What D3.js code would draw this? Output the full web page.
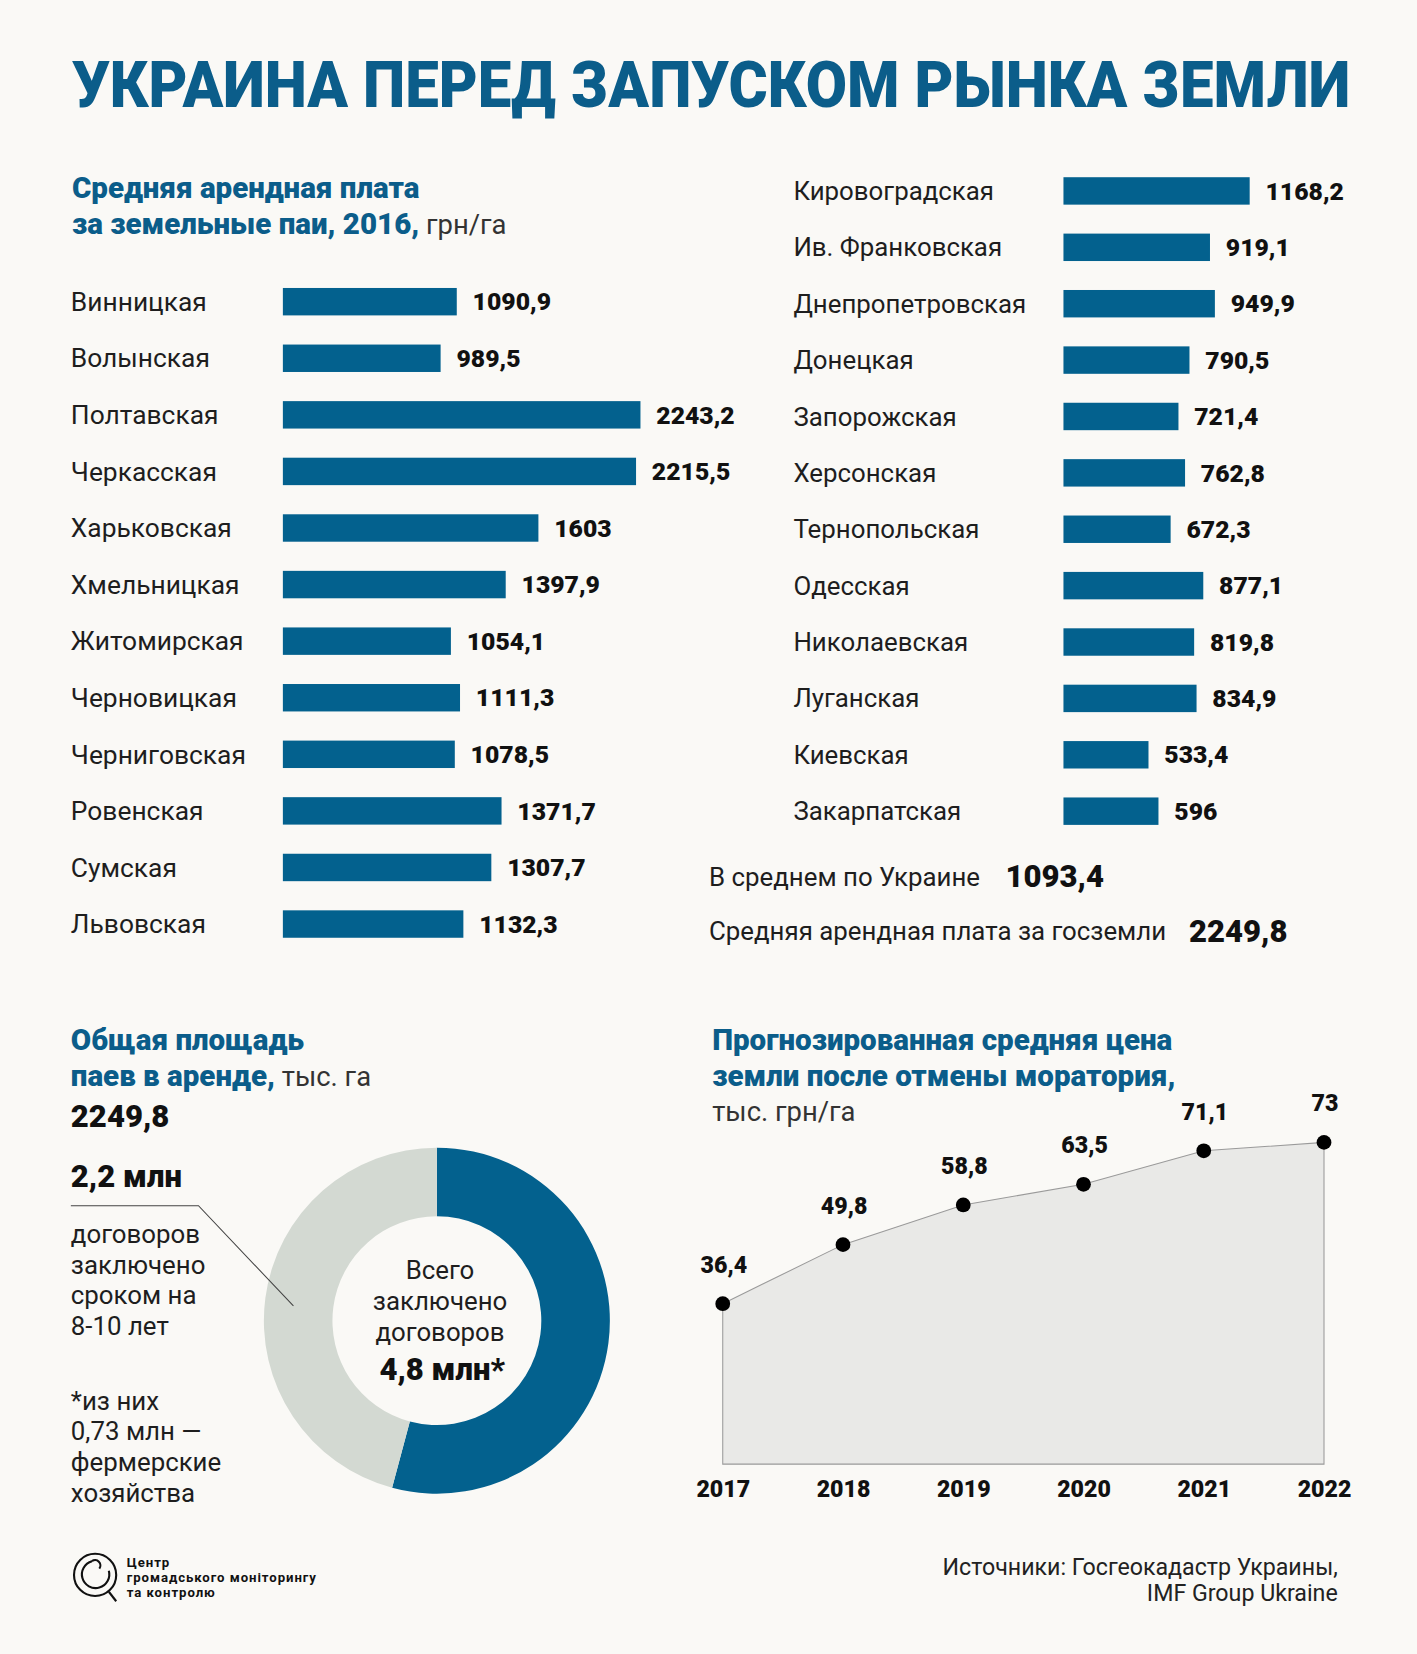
<!DOCTYPE html>
<html><head><meta charset="utf-8">
<script src="https://cdn.jsdelivr.net/npm/d3@7"></script>
<style>
html,body{margin:0;padding:0;background:#faf9f6;}
svg{display:block;}
text{font-family:Roboto,"Open Sans",sans-serif;}
</style></head>
<body><div id="chart"></div>
<script>
const title = "УКРАИНА ПЕРЕД ЗАПУСКОМ РЫНКА ЗЕМЛИ";
const leftRegions = ["Винницкая","Волынская","Полтавская","Черкасская","Харьковская","Хмельницкая","Житомирская","Черновицкая","Черниговская","Ровенская","Сумская","Львовская"];
const leftValues = [1090.9, 989.5, 2243.2, 2215.5, 1603, 1397.9, 1054.1, 1111.3, 1078.5, 1371.7, 1307.7, 1132.3];
const rightRegions = ["Кировоградская","Ив. Франковская","Днепропетровская","Донецкая","Запорожская","Херсонская","Тернопольская","Одесская","Николаевская","Луганская","Киевская","Закарпатская"];
const rightValues = [1168.2, 919.1, 949.9, 790.5, 721.4, 762.8, 672.3, 877.1, 819.8, 834.9, 533.4, 596];
const avgUkraine = 1093.4;
const avgState = 2249.8;
const totalArea = 2249.8;
const contractsTotal = 4.8;
const contracts810 = 2.2;
const years = [2017, 2018, 2019, 2020, 2021, 2022];
const prices = [36.4, 49.8, 58.8, 63.5, 71.1, 73];

const BLUE = "#03618e", TBLUE = "#0b5d8a", GRAY = "#d3d9d2";
const fmt = v => String(v).replace(".", ",");

const svg = d3.select("#chart").append("svg")
  .attr("width", 1417).attr("height", 1654)
  .attr("viewBox", "0 0 1343 1568");
svg.append("rect").attr("width", 1343).attr("height", 1568).attr("fill", "#faf9f6");

// title, horizontally scaled to the reference width
const tt = svg.append("text").attr("x", 0).attr("y", 0)
  .attr("font-size", 62).attr("font-weight", 900).attr("fill", TBLUE).text(title);
const tw = tt.node().getComputedTextLength();
tt.attr("transform", `translate(68,101) scale(${1212 / tw},1)`);

// ---------- bars ----------
const x = d3.scaleLinear().domain([0, 2243.2]).range([0, 339]);
function barBlock(regions, values, labelX, barX, y0, y1, fs) {
  const y = d3.scalePoint().domain(regions).range([y0, y1]);
  const g = svg.append("g");
  regions.forEach((r, i) => {
    const cy = y(r);
    g.append("text").attr("x", labelX).attr("y", cy).attr("dy", "0.35em")
      .attr("font-size", fs).attr("fill", "#1e1e1e").text(r);
    g.append("rect").attr("x", barX).attr("y", cy - 13)
      .attr("width", x(values[i])).attr("height", 26).attr("fill", BLUE);
    g.append("text").attr("x", barX + x(values[i]) + 15).attr("y", cy).attr("dy", "0.35em")
      .attr("font-size", 23.5).attr("font-weight", 900).attr("fill", "#111").text(fmt(values[i]));
  });
}
barBlock(leftRegions, leftValues, 67, 268, 286, 876, 25);
barBlock(rightRegions, rightValues, 752, 1008, 181, 769, 24.5);

function subtitle(xp, lines) {
  lines.forEach(([bold, reg, cy]) => {
    const t = svg.append("text").attr("x", xp).attr("y", cy).attr("dy", "0.35em").attr("font-size", 28);
    t.append("tspan").attr("font-weight", 900).attr("fill", TBLUE).text(bold);
    if (reg) t.append("tspan").attr("fill", "#333").attr("font-weight", 400).attr("font-size", 26).text(reg);
  });
}
subtitle(68, [["Средняя арендная плата", null, 178], ["за земельные паи, 2016,", " грн/га", 212]]);

svg.append("text").attr("x", 672).attr("y", 831).attr("dy", "0.35em").attr("font-size", 24.5).attr("fill", "#1e1e1e").text("В среднем по Украине");
svg.append("text").attr("x", 953).attr("y", 831).attr("dy", "0.35em").attr("font-size", 29.5).attr("font-weight", 900).attr("fill", "#111").text(fmt(avgUkraine));
svg.append("text").attr("x", 672).attr("y", 883).attr("dy", "0.35em").attr("font-size", 24.5).attr("fill", "#1e1e1e").text("Средняя арендная плата за госземли");
svg.append("text").attr("x", 1127).attr("y", 883).attr("dy", "0.35em").attr("font-size", 29.5).attr("font-weight", 900).attr("fill", "#111").text(fmt(avgState));

// ---------- donut ----------
subtitle(67, [["Общая площадь", null, 986], ["паев в аренде,", " тыс. га", 1020]]);
svg.append("text").attr("x", 67).attr("y", 1058).attr("dy", "0.35em").attr("font-size", 29.5).attr("font-weight", 900).attr("fill", "#111").text(fmt(totalArea));
svg.append("text").attr("x", 67).attr("y", 1115).attr("dy", "0.35em").attr("font-size", 29.5).attr("font-weight", 900).attr("fill", "#111").text(fmt(contracts810) + " млн");
["договоров","заключено","сроком на","8-10 лет"].forEach((s, i) =>
  svg.append("text").attr("x", 67).attr("y", 1170 + i * 29).attr("dy", "0.35em").attr("font-size", 24.5).attr("fill", "#1e1e1e").text(s));
["*из них","0,73 млн —","фермерские","хозяйства"].forEach((s, i) =>
  svg.append("text").attr("x", 67).attr("y", 1328 + i * 29).attr("dy", "0.35em").attr("font-size", 24.5).attr("fill", "#1e1e1e").text(s));

const donutData = [{k: "other", v: contractsTotal - contracts810, c: BLUE}, {k: "810", v: contracts810, c: GRAY}];
const pie = d3.pie().sort(null).value(d => d.v);
const arc = d3.arc().innerRadius(99).outerRadius(164);
const dg = svg.append("g").attr("transform", "translate(414,1252)");
dg.selectAll("path").data(pie(donutData)).join("path").attr("d", arc).attr("fill", d => d.data.c);
svg.append("path").attr("d", "M67,1143 L188,1143 L278,1238").attr("fill", "none").attr("stroke", "#444").attr("stroke-width", 1);
["Всего","заключено","договоров"].forEach((s, i) =>
  svg.append("text").attr("x", 417).attr("y", 1204 + i * 29.5).attr("dy", "0.35em").attr("text-anchor", "middle").attr("font-size", 24.5).attr("fill", "#1e1e1e").text(s));
svg.append("text").attr("x", 419).attr("y", 1298).attr("dy", "0.35em").attr("text-anchor", "middle").attr("font-size", 29.5).attr("font-weight", 900).attr("fill", "#111").text(fmt(contractsTotal) + " млн*");

// ---------- line ----------
subtitle(675, [["Прогнозированная средняя цена", null, 986], ["земли после отмены моратория,", null, 1020]]);
svg.append("text").attr("x", 675).attr("y", 1054).attr("dy", "0.35em").attr("font-size", 26).attr("fill", "#333").text("тыс. грн/га");
const lx = d3.scaleLinear().domain([2017, 2022]).range([685, 1255]);
const ly = d3.scaleLinear().domain([0, 73]).range([1388, 1083]);
const pts = years.map((yr, i) => [yr, prices[i]]);
svg.append("path").datum(pts)
  .attr("d", d3.area().x(d => lx(d[0])).y0(ly(0)).y1(d => ly(d[1])))
  .attr("fill", "#e9e9e7").attr("stroke", "#9a9a9a").attr("stroke-width", 1);
svg.selectAll("circle.pt").data(pts).join("circle").attr("class", "pt")
  .attr("cx", d => lx(d[0])).attr("cy", d => ly(d[1])).attr("r", 7).attr("fill", "#000");
svg.selectAll("text.pl").data(pts).join("text").attr("class", "pl")
  .attr("x", d => lx(d[0]) + 1).attr("y", d => ly(d[1]) - 37).attr("dy", "0.35em")
  .attr("text-anchor", "middle").attr("font-size", 22).attr("font-weight", 900).attr("fill", "#111")
  .text(d => fmt(d[1]));
const xAxis = d3.axisBottom(lx).tickValues(years).tickFormat(d3.format("d")).tickSize(0).tickPadding(0);
const ag = svg.append("g").attr("transform", "translate(0,1411)").call(xAxis);
ag.select(".domain").remove();
ag.selectAll("text").attr("dy", "0.35em").attr("font-size", 22).attr("font-weight", 900).attr("fill", "#111")
  .attr("font-family", "Roboto, sans-serif");

// ---------- footer ----------
const lg = svg.append("g").attr("transform", "translate(90,1493)").attr("fill", "none").attr("stroke", "#111").attr("stroke-width", 2);
lg.append("circle").attr("r", 20);
lg.append("path").attr("d", "M-3,-13 A13,13 0 1 0 13,-4");
lg.append("path").attr("d", "M-3,-13 A5,5 0 0 1 4,-6");
lg.append("path").attr("d", "M13,16 L20,25");
["Центр","громадського моніторингу","та контролю"].forEach((s, i) =>
  svg.append("text").attr("x", 120).attr("y", 1481 + i * 14.5).attr("dy", "0.35em").attr("font-size", 12.5).attr("font-weight", 700)
    .attr("letter-spacing", 0.9).attr("fill", "#111").text(s));
svg.append("text").attr("x", 1268).attr("y", 1485).attr("dy", "0.35em").attr("text-anchor", "end").attr("font-size", 22).attr("fill", "#222").text("Источники: Госгеокадастр Украины,");
svg.append("text").attr("x", 1268).attr("y", 1510).attr("dy", "0.35em").attr("text-anchor", "end").attr("font-size", 22).attr("fill", "#222").text("IMF Group Ukraine");
</script></body></html>
